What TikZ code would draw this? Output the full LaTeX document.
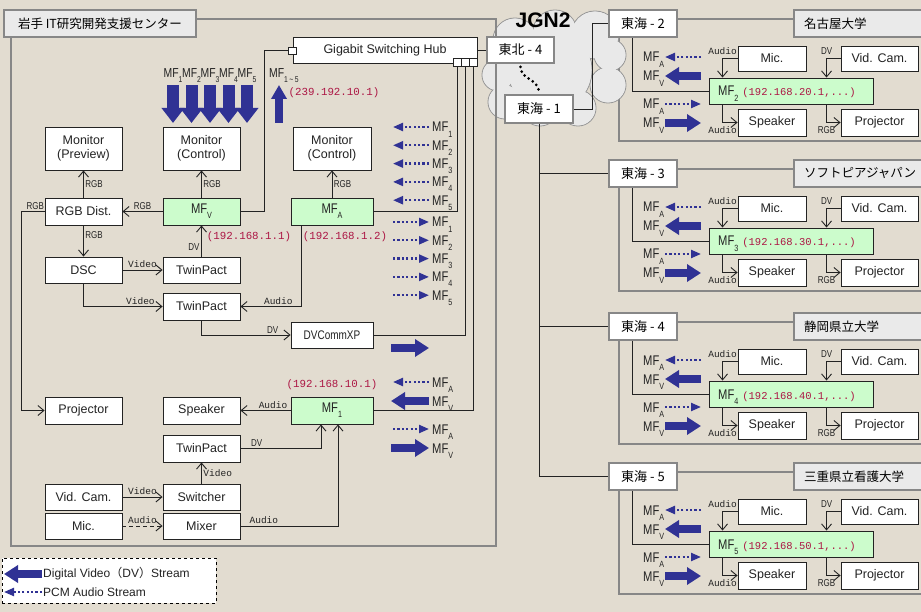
\documentclass[tikz,border=0pt]{standalone}
\usepackage{fontspec}
\setmainfont{Liberation Sans}
\newfontfamily\narrowfam[FakeStretch=0.8]{Liberation Sans}
\newfontfamily\jpfam{Noto Sans CJK JP}
\newfontfamily\monofam{Liberation Mono}
\usetikzlibrary{arrows.meta}
\definecolor{bg}{RGB}{226,220,208}
\definecolor{framegray}{RGB}{135,135,135}
\definecolor{titlegray}{RGB}{234,234,234}
\definecolor{mfgreen}{RGB}{204,252,204}
\definecolor{ipred}{RGB}{172,22,68}
\definecolor{streamblue}{RGB}{48,50,148}
\definecolor{ink}{RGB}{35,35,35}
\definecolor{cloudfill}{RGB}{233,233,233}
\definecolor{cloudline}{RGB}{150,150,150}
\newcommand\MF[1]{MF\raisebox{-0.36em}{\fontsize{9}{9}\selectfont #1}}
\newcommand\MFs[1]{MF\raisebox{-0.36em}{\fontsize{8.5}{9}\selectfont #1}}
\newcommand\bx[7][box]{\node[#1,minimum width=#5pt-#3pt,minimum height=#6pt-#4pt] (#2) at ({(#3+#5)/2},{(#4+#6)/2}) {#7};}
\begin{document}
\begin{tikzpicture}[x=1pt,y=-1pt,
  box/.style={draw=ink, fill=white, line width=0.9pt, inner sep=0pt, align=center, text=ink, font=\fontsize{12.5}{14.5}\selectfont},
  gbox/.style={box, fill=mfgreen, font=\narrowfam\fontsize{14}{14}\selectfont},
  tbox/.style={draw=framegray, line width=1.6pt, fill=white, inner sep=0pt, text=black, font=\jpfam\fontsize{13}{14}\selectfont},
  ttl/.style={draw=framegray, line width=1.6pt, fill=titlegray, inner sep=0pt, text=black, font=\jpfam\fontsize{12.5}{14}\selectfont},
  frame/.style={draw=framegray, line width=1.6pt},
  conn/.style={draw=ink, line width=0.9pt},
  arr/.style={conn, -{Straight Barb[length=6pt,width=10pt]}},
  lbl/.style={font=\narrowfam\fontsize{10}{10}\selectfont, text=ink, inner sep=1.5pt},
  mlbl/.style={font=\monofam\fontsize{9.5}{10}\selectfont, text=ink, inner sep=1.5pt},
  ip/.style={font=\monofam\fontsize{10.8}{11}\selectfont, text=ipred, inner sep=0pt},
  mf/.style={font=\narrowfam\fontsize{14}{14}\selectfont, text=ink, inner sep=0pt, anchor=base west},
  vstream/.style={draw=streamblue, line width=8.5pt, -{Triangle[length=14pt,width=17pt]}},
  dstream/.style={draw=streamblue, line width=12pt, -{Triangle[length=15pt,width=22pt]}},
  ustream/.style={draw=streamblue, line width=8pt, -{Triangle[length=14pt,width=15pt]}},
  astream/.style={draw=streamblue, line width=2.2pt, dash pattern=on 2.2pt off 2.2pt, -{Triangle[length=10pt,width=8pt]}},
]
\useasboundingbox (0,0) rectangle (921,612);
\fill[bg] (0,0) rectangle (921,612);

% right panel frames
\foreach \y in {10,160,313,463} {
  \draw[frame] (677,{\y+9}) -- (794,{\y+9});
  \draw[frame] (619,{\y+27}) -- (619,{\y+131}) -- (925,{\y+131});
}

% cloud JGN2
\foreach \cx/\cy/\r in {515/40/22,555/32/22,595/35/24,498/75/16,505/102/17,540/108/18,578/108/18,608/85/18,610/55/16,550/70/42}
  \draw[cloudline, line width=0.9pt, fill=cloudfill] (\cx,\cy) circle[radius=\r];
\foreach \cx/\cy/\r in {515/40/22,555/32/22,595/35/24,498/75/16,505/102/17,540/108/18,578/108/18,608/85/18,610/55/16,550/70/42}
  \fill[cloudfill] (\cx,\cy) circle[radius=\r-0.6];
\node[font=\bfseries\fontsize{21}{21}\selectfont, text=black, inner sep=0pt] (jgn) at (543,20) {JGN2};

% left panel frame
\draw[frame] (11,19) rectangle (496,546);

% ---------- left panel nodes ----------
\bx[ttl]{ttlL}{4}{10}{196}{37}{岩手 IT研究開発支援センター}
\bx{monp}{45}{127}{122}{170}{Monitor\\(Preview)}
\bx{monc1}{163}{127}{240}{170}{Monitor\\(Control)}
\bx{monc2}{293}{127}{371}{170}{Monitor\\(Control)}
\bx{rgbd}{45}{198}{122}{225}{RGB Dist.}
\bx[gbox]{mfv}{163}{198}{240}{225}{\MF{V}}
\bx[gbox]{mfa}{291}{198}{373}{225}{\MF{A}}
\bx{dsc}{45}{257}{122}{283}{DSC}
\bx{tp1}{163}{257}{240}{283}{TwinPact}
\bx{tp2}{163}{293}{240}{320}{TwinPact}
\bx[box,font=\narrowfam\fontsize{12.5}{13}\selectfont]{dvc}{291}{322}{373}{348}{DVCommXP}
\bx{projl}{45}{397}{122}{424}{Projector}
\bx{spk}{163}{397}{240}{424}{Speaker}
\bx[gbox]{mf1}{291}{397}{373}{424}{\MF{1}}
\bx{tp3}{163}{435}{240}{462}{TwinPact}
\bx{vcam}{45}{484}{122}{510}{Vid. Cam.}
\bx{sw}{163}{484}{240}{510}{Switcher}
\bx{mic}{45}{513}{122}{539}{Mic.}
\bx{mix}{163}{513}{240}{539}{Mixer}
\bx{hub}{293}{37}{477}{63}{Gigabit Switching Hub}
\bx{hubp}{288}{47}{296}{54}{}
\bx{hp1}{453}{58}{461}{66}{}
\bx{hp2}{461}{58}{469}{66}{}
\bx{hp3}{469}{58}{477}{66}{}
\bx[tbox]{tb4}{487}{37}{554}{63}{東北 - 4}
\bx[tbox]{tk1}{505}{95}{573}{123}{東海 - 1}

% ---------- left panel connectors ----------
\draw[arr] (rgbd.north) -- node[lbl, right] (l1) {RGB} (monp.south);
\draw[arr] (mfv.north) -- node[lbl, right] (l2) {RGB} (monc1.south);
\draw[arr] (mfa.north) -- node[lbl, right] (l3) {RGB} (monc2.south);
\draw[arr] (mfv.west) -- node[lbl, above] (l4) {RGB} (rgbd.east);
\draw[arr] (rgbd.south) -- node[lbl, right, pos=0.3] (l5) {RGB} (dsc.north);
\draw[arr] (rgbd.west) -- ++(-23,0) node[lbl, above, pos=0.4] (l6) {RGB} |- (projl.west);
\draw[arr] (dsc.east) -- node[mlbl, above] (l7) {Video} (tp1.west);
\draw[arr] (dsc.south) |- node[mlbl, above, pos=0.86] (l8) {Video} (tp2.west);
\draw[arr] (tp1.north) -- node[lbl, left, pos=0.3] (l9) {DV} (mfv.south);
\draw[arr] ([xshift=11pt]mfa.south west) |- node[mlbl, above, pos=0.69] (l10) {Audio} (tp2.east);
\draw[arr] (tp2.south) |- node[lbl, above, pos=0.9] (l11) {DV} (dvc.west);
\draw[arr] (mf1.west) -- node[mlbl, above, pos=0.35] (l12) {Audio} (spk.east);
\draw[arr] (tp3.east) -| node[lbl, above, pos=0.1] (l13) {DV} ([xshift=-11pt]mf1.south);
\draw[arr] (sw.north) -- node[mlbl, right] (l14) {Video} (tp3.south);
\draw[arr] (vcam.east) -- node[mlbl, above] (l15) {Video} (sw.west);
\draw[arr, dash pattern=on 4pt off 3pt] (mic.east) -- node[mlbl, above] (l16) {Audio} (mix.west);
\draw[arr] (mix.east) -| node[mlbl, above, pos=0.12] (l17) {Audio} ([xshift=6pt]mf1.south);

\node[ip] (ipv) at (249,237) {(192.168.1.1)};
\node[ip] (ipa) at (345,237) {(192.168.1.2)};
\node[ip] (ip1) at (332,385) {(192.168.10.1)};
\node[ip] (ipm) at (334,93) {(239.192.10.1)};

% hub / network connectors
\draw[conn] (mfv.east) -- ++(24,0) |- (hubp.west);
\draw[conn] (mfa.east) -| (hp1.south);
\draw[conn] (dvc.east) -| (hp2.south);
\draw[conn] (mf1.east) -| (hp3.south);
\draw[conn] (hub.east) -- (tb4.west);
\draw[black, line width=3pt, line cap=round, dash pattern=on 0pt off 5pt] ([yshift=-3pt]tb4.south) .. controls (521,80) and (537,78) .. ([yshift=3pt]tk1.north);

% ---------- stream arrows in left panel ----------
\foreach \i in {1,...,5} {
  \pgfmathsetmacro\xx{173+18.5*(\i-1)}
  \draw[dstream] (\xx,85) -- (\xx,123);
  \node[mf, anchor=base, font=\narrowfam\fontsize{13}{13}\selectfont] (dl\i) at (\xx,78) {\MFs{\i}};
}
\draw[ustream] (279,123) -- (279,85);
\node[mf, font=\narrowfam\fontsize{13}{13}\selectfont] (mfall) at (269,78) {MF\raisebox{-0.36em}{\fontsize{8.5}{9}\selectfont 1\,\textasciitilde\,5}};

\foreach \i in {1,...,5} {
  \pgfmathsetmacro\yy{127+18.3*(\i-1)}
  \draw[astream] (429,\yy) -- (393,\yy);
  \node[mf] (rl\i) at (432,\yy+5) {\MF{\i}};
  \pgfmathsetmacro\yz{222+18.3*(\i-1)}
  \draw[astream] (393,\yz) -- (429,\yz);
  \node[mf] (sl\i) at (432,\yz+5) {\MF{\i}};
}
\draw[vstream] (391,348) -- (429,348);
\draw[astream] (429,382) -- (393,382);
\node[mf] (ba1) at (432,387) {\MF{A}};
\draw[vstream] (429,401) -- (391,401);
\node[mf] (bv1) at (432,406) {\MF{V}};
\draw[astream] (393,429) -- (429,429);
\node[mf] (ba2) at (432,434) {\MF{A}};
\draw[vstream] (391,448) -- (429,448);
\node[mf] (bv2) at (432,453) {\MF{V}};

% ---------- right panels ----------
\foreach \k/\y/\nm/\ipn in {2/10/名古屋大学/20,3/160/ソフトピアジャパン/30,4/313/静岡県立大学/40,5/463/三重県立看護大学/50} {
  \node[tbox, minimum width=68pt, minimum height=27pt] (tk\k) at (643,{\y+13.5}) {東海 - \k};
  \node[ttl, minimum height=27pt, text width=111pt, inner xsep=10pt, align=left] (ti\k) at (859.5,{\y+13.5}) {\nm};
  \node[box, minimum width=68pt, minimum height=25pt] (mic\k) at (772,{\y+48.5}) {Mic.};
  \node[box, minimum width=77pt, minimum height=25pt] (vc\k) at (879.5,{\y+48.5}) {Vid. Cam.};
  \node[gbox, minimum width=164pt, minimum height=26pt] (mf\k) at (791,{\y+81}) {};
  \node[mf] (mft\k) at (718,{\y+86}) {\MF{\k}\hspace{4pt}{\monofam\fontsize{10.5}{11}\selectfont\color{ipred}(192.168.\ipn.1,...)}};
  \node[box, minimum width=68pt, minimum height=27pt] (spk\k) at (772,{\y+112.5}) {Speaker};
  \node[box, minimum width=77pt, minimum height=27pt] (prj\k) at (879.5,{\y+112.5}) {Projector};
  \draw[arr] (mic\k.west) -| ([xshift=14pt]mf\k.north west) node[pos=0.5, mlbl, anchor=south, yshift=2pt] (au\k) {Audio};
  \draw[arr] (vc\k.west) -| ([xshift=118pt]mf\k.north west) node[pos=0.5, lbl, anchor=south, yshift=2pt] (dv\k) {DV};
  \draw[arr] ([xshift=14pt]mf\k.south west) |- (spk\k.west) node[pos=0.5, mlbl, anchor=north, yshift=-2pt] (aub\k) {Audio};
  \draw[arr] ([xshift=118pt]mf\k.south west) |- (prj\k.west) node[pos=0.5, lbl, anchor=north, yshift=-2pt] (rgb\k) {RGB};
  \draw[conn] ([xshift=24pt]tk\k.south west) |- (mf\k.west);
  \draw[astream] (701,{\y+47}) -- (665,{\y+47});
  \node[mf] (ra\k) at (643,{\y+52}) {\MF{A}};
  \draw[vstream] (701,{\y+66}) -- (665,{\y+66});
  \node[mf] (rv\k) at (643,{\y+71}) {\MF{V}};
  \draw[astream] (665,{\y+94}) -- (701,{\y+94});
  \node[mf] (sa\k) at (643,{\y+99}) {\MF{A}};
  \draw[vstream] (665,{\y+113}) -- (701,{\y+113});
  \node[mf] (sv\k) at (643,{\y+118}) {\MF{V}};
}

% trunk from 東海-1
\draw[conn] (tk1.east) -- ++(19,0) |- (tk2.west);
\foreach \k in {3,4,5} \draw[conn] (tk1.south) |- (tk\k.west);

% ---------- legend ----------
\node[draw=black, dashed, fill=white, line width=0.8pt, minimum width=214pt, minimum height=45pt, inner sep=0pt] (legend) at (109,580.5) {};
\draw[vstream, line width=8pt] (42,574) -- (4,574);
\node[anchor=west, inner sep=0pt, font=\fontsize{12}{13}\selectfont, text=ink] (lg1) at (43,574) {Digital Video{\jpfam （}DV{\jpfam ）}Stream};
\draw[astream] (42,592) -- (4,592);
\node[anchor=west, inner sep=0pt, font=\fontsize{12}{13}\selectfont, text=ink] (lg2) at (43,592) {PCM Audio Stream};
\end{tikzpicture}
\end{document}
